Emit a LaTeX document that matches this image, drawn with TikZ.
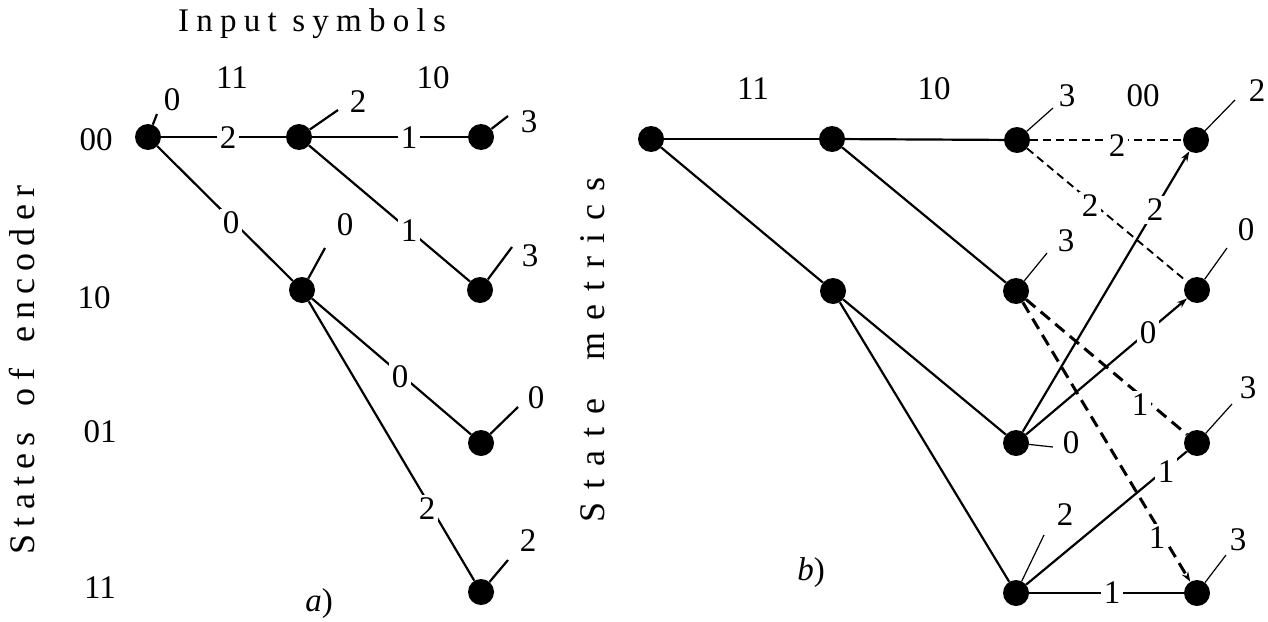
\documentclass[tikz,border=0pt]{standalone}
\usepackage{fontspec}
\setmainfont{Liberation Serif}
\usetikzlibrary{arrows.meta}
\begin{document}
\begin{tikzpicture}[x=1pt,y=-1pt,
  dot/.style={circle,fill=black,inner sep=0pt,minimum size=26pt},
  edge/.style={line width=2.2pt},
  tick/.style={line width=2.2pt},
  ttick/.style={line width=1.2pt},
  thind/.style={line width=1.9pt,dash pattern=on 8pt off 5pt},
  thickd/.style={line width=3pt,dash pattern=on 12pt off 7pt},
  lbl/.style={fill=white,inner sep=3pt,font=\fontsize{33}{38}\selectfont},
  txt/.style={inner sep=0pt,font=\fontsize{33}{38}\selectfont},
  arr/.style={-{Stealth[length=10pt,width=7pt]}}
]
\useasboundingbox (0,0) rectangle (1268,621);
% ---------- part a ----------
\node[dot] (A0) at (148,137) {};
\node[dot] (A1) at (299,137) {};
\node[dot] (A2) at (302,290) {};
\node[dot] (A3) at (481,137) {};
\node[dot] (A4) at (480,290) {};
\node[dot] (A5) at (481,443) {};
\node[dot] (A6) at (481,592) {};
\draw[edge] (A0) -- (A1);
\draw[edge] (A0) -- (A2);
\draw[edge] (A1) -- (A3);
\draw[edge] (A1) -- (A4);
\draw[edge] (A2) -- (A5);
\draw[edge] (A2) -- (A6);
\node[lbl] (ea1) at (228,138) {2};
\node[lbl] (ea2) at (231,223) {0};
\node[lbl] (ea3) at (409,138) {1};
\node[lbl] (ea4) at (409,231) {1};
\node[lbl] (ea5) at (400,377) {0};
\node[lbl] (ea6) at (427,509) {2};
% metric ticks
\coordinate (ta0) at (157,114);
\coordinate (ta1) at (338,110);
\coordinate (ta2) at (325,248);
\coordinate (ta3) at (508,116);
\coordinate (ta4) at (512,247);
\coordinate (ta5) at (518,407);
\coordinate (ta6) at (508,560);
\draw[tick] (A0) -- (ta0);
\draw[tick] (A1) -- (ta1);
\draw[tick] (A2) -- (ta2);
\draw[tick] (A3) -- (ta3);
\draw[tick] (A4) -- (ta4);
\draw[tick] (A5) -- (ta5);
\draw[tick] (A6) -- (ta6);
\node[txt] (ma0) at (172,100) {0};
\node[txt] (ma1) at (358,102) {2};
\node[txt] (ma2) at (345,225) {0};
\node[txt] (ma3) at (529,122) {3};
\node[txt] (ma4) at (530,256) {3};
\node[txt] (ma5) at (536,398) {0};
\node[txt] (ma6) at (528,541) {2};
% headings
\node[txt] (in1) at (232,78) {11};
\node[txt] (in2) at (433,78) {10};
\node[txt] (hdr) at (312,24) {\addfontfeature{LetterSpace=22}Input symbols};
\node[txt] (s00) at (96,140) {00};
\node[txt] (s10) at (94,298) {10};
\node[txt] (s01) at (100,432) {01};
\node[txt] (s11) at (100,588) {11};
\node[txt,rotate=90,font=\fontsize{36}{40}\selectfont] (soe) at (22,370) {\addfontfeature{LetterSpace=20}States\hspace{10pt} of\hspace{10pt} encoder};
\node[txt] (la) at (319,604) {\itshape a\upshape)};
% ---------- part b ----------
\node[dot] (B0) at (651,139) {};
\node[dot] (B1) at (832,139) {};
\node[dot] (B2) at (833,291) {};
\node[dot] (C0) at (1017,140) {};
\node[dot] (C1) at (1016,291) {};
\node[dot] (C2) at (1016,443) {};
\node[dot] (C3) at (1016,593) {};
\node[dot] (D0) at (1196,140) {};
\node[dot] (D1) at (1197,290) {};
\node[dot] (D2) at (1197,443) {};
\node[dot] (D3) at (1197,593) {};
\draw[edge] (B0) -- (B1);
\draw[edge] (B0) -- (B2);
\draw[edge] (B1) -- (C0);
\draw[edge] (B1) -- (C1);
\draw[edge] (B2) -- (C2);
\draw[edge] (B2) -- (C3);
\draw[thind] (C0) -- (D0);
\draw[thind] (C0) -- (D1);
\draw[thickd] (C1) -- (D2);
\draw[thickd,arr] (C1) -- (D3);
\draw[edge,arr] (C2) -- (D0);
\draw[edge,arr] (C2) -- (D1);
\draw[edge] (C3) -- (D2);
\draw[edge] (C3) -- (D3);
\node[lbl] (eb1) at (1117,146) {2};
\node[lbl] (eb2) at (1090,206) {2};
\node[lbl] (eb3) at (1155,210) {2};
\node[lbl] (eb4) at (1148,333) {0};
\node[lbl] (eb5) at (1140,405) {1};
\node[lbl] (eb6) at (1166,472) {1};
\node[lbl] (eb7) at (1157,538) {1};
\node[lbl] (eb8) at (1112,593) {1};
% metric ticks
\coordinate (tc0) at (1053,108);
\coordinate (tc1) at (1047,253);
\coordinate (tc2) at (1053,447);
\coordinate (tc3) at (1044,535);
\coordinate (td0) at (1235,100);
\coordinate (td1) at (1227,248);
\coordinate (td2) at (1232,404);
\coordinate (td3) at (1226,555);
\draw[ttick] (C0) -- (tc0);
\draw[ttick] (C1) -- (tc1);
\draw[ttick] (C2) -- (tc2);
\draw[ttick] (C3) -- (tc3);
\draw[ttick] (D0) -- (td0);
\draw[ttick] (D1) -- (td1);
\draw[ttick] (D2) -- (td2);
\draw[ttick] (D3) -- (td3);
\node[txt] (mc0) at (1067,96) {3};
\node[txt] (mc1) at (1066,241) {3};
\node[txt] (mc2) at (1071,443) {0};
\node[txt] (mc3) at (1065,515) {2};
\node[txt] (md0) at (1257,91) {2};
\node[txt] (md1) at (1246,230) {0};
\node[txt] (md2) at (1248,388) {3};
\node[txt] (md3) at (1238,540) {3};
\node[txt] (in3) at (753,89) {11};
\node[txt] (in4) at (934,89) {10};
\node[txt] (in5) at (1143,96) {00};
\node[txt,rotate=90,font=\fontsize{36}{40}\selectfont] (stm) at (593,350) {\addfontfeature{LetterSpace=36}State\hspace{16pt} metrics};
\node[txt] (lb) at (811,573) {\itshape b\upshape)};
\end{tikzpicture}
\end{document}
